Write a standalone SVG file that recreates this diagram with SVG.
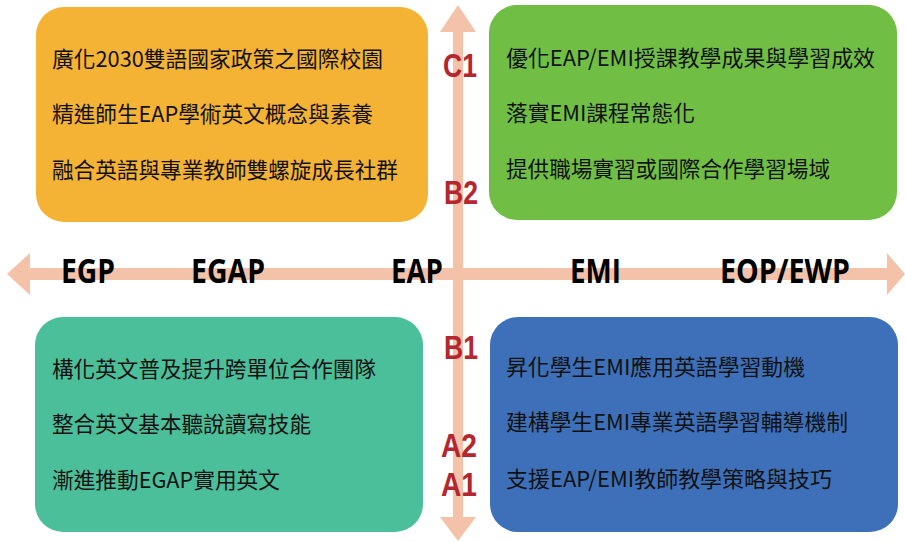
<svg xmlns="http://www.w3.org/2000/svg" width="905" height="542" viewBox="0 0 905 542">
<style>
.box{stroke:none}
.t{font-family:"Noto Sans CJK TC","Noto Sans CJK SC",sans-serif;font-size:22px;fill:#111}
.ax{font-family:"Open Sans","Liberation Sans",sans-serif;font-weight:bold;font-size:34px;fill:#000}
.lv{font-family:"Liberation Sans",Arial,sans-serif;font-weight:bold;font-size:34px;fill:#B5262E}
.arrow{fill:#F4C1A9}
</style>
<rect width="905" height="542" fill="#fff"/>
<g id="connectors">
<polygon class="arrow" points="7,274 30,253 30,268 887,268 887,253 905,274 887,295 887,280 30,280 30,295"/>
<polygon class="arrow" points="458,5 476,32 463,32 463,517 476,517 458,541 440,517 453,517 453,32 440,32"/>
</g>
<g id="box-orange">
<rect class="box" x="36" y="7" width="392" height="215" rx="28" fill="#F5B335"/>
<text class="t" x="52" y="67" textLength="331" lengthAdjust="spacingAndGlyphs">廣化2030雙語國家政策之國際校園</text>
<text class="t" x="52" y="122" textLength="321" lengthAdjust="spacingAndGlyphs">精進師生EAP學術英文概念與素養</text>
<text class="t" x="52" y="178" textLength="346" lengthAdjust="spacingAndGlyphs">融合英語與專業教師雙螺旋成長社群</text>
</g>
<g id="box-green">
<rect class="box" x="489" y="5" width="408" height="215" rx="28" fill="#70BF44"/>
<text class="t" x="506" y="66" textLength="369" lengthAdjust="spacingAndGlyphs">優化EAP/EMI授課教學成果與學習成效</text>
<text class="t" x="506" y="121" textLength="189" lengthAdjust="spacingAndGlyphs">落實EMI課程常態化</text>
<text class="t" x="506" y="177" textLength="324" lengthAdjust="spacingAndGlyphs">提供職場實習或國際合作學習場域</text>
</g>
<g id="box-teal">
<rect class="box" x="35" y="317" width="388" height="215" rx="28" fill="#4BBF9A"/>
<text class="t" x="52" y="377" textLength="324" lengthAdjust="spacingAndGlyphs">構化英文普及提升跨單位合作團隊</text>
<text class="t" x="52" y="432" textLength="259" lengthAdjust="spacingAndGlyphs">整合英文基本聽說讀寫技能</text>
<text class="t" x="52" y="488" textLength="228" lengthAdjust="spacingAndGlyphs">漸進推動EGAP實用英文</text>
</g>
<g id="box-blue">
<rect class="box" x="490" y="317" width="408" height="215" rx="28" fill="#3D70B8"/>
<text class="t" x="506" y="375" textLength="299" lengthAdjust="spacingAndGlyphs">昇化學生EMI應用英語學習動機</text>
<text class="t" x="506" y="430" textLength="342" lengthAdjust="spacingAndGlyphs">建構學生EMI專業英語學習輔導機制</text>
<text class="t" x="506" y="487" textLength="326" lengthAdjust="spacingAndGlyphs">支援EAP/EMI教師教學策略與技巧</text>
</g>
<g id="axis-labels">
<text class="ax" x="61" y="283" textLength="54" lengthAdjust="spacingAndGlyphs">EGP</text>
<text class="ax" x="191" y="283" textLength="74" lengthAdjust="spacingAndGlyphs">EGAP</text>
<text class="ax" x="391" y="283" textLength="52" lengthAdjust="spacingAndGlyphs">EAP</text>
<text class="ax" x="570" y="283" textLength="51" lengthAdjust="spacingAndGlyphs">EMI</text>
<text class="ax" x="720" y="283" textLength="130" lengthAdjust="spacingAndGlyphs">EOP/EWP</text>
</g>
<g id="level-labels">
<text class="lv" x="443" y="77" textLength="34" lengthAdjust="spacingAndGlyphs">C1</text>
<text class="lv" x="444" y="204" textLength="34" lengthAdjust="spacingAndGlyphs">B2</text>
<text class="lv" x="444" y="359" textLength="34" lengthAdjust="spacingAndGlyphs">B1</text>
<text class="lv" x="441" y="456.5" textLength="36" lengthAdjust="spacingAndGlyphs">A2</text>
<text class="lv" x="441" y="495.5" textLength="36" lengthAdjust="spacingAndGlyphs">A1</text>
</g>
</svg>
